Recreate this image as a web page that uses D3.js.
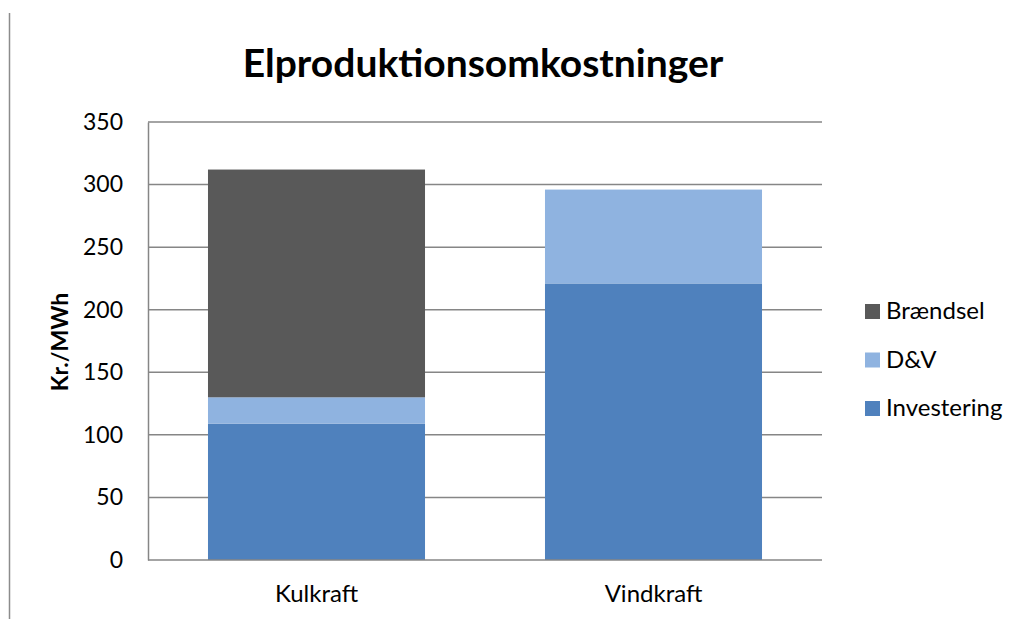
<!DOCTYPE html>
<html>
<head>
    <meta charset="utf-8">
    <script src="https://d3js.org/d3.v7.min.js"></script>
    <style>
        body { margin: 0; background: white; font-family: Lato, "Open Sans", sans-serif; }
        svg { display: block; }
        .grid line { stroke: #868686; stroke-width: 1.5px; }
        .tick text { fill: #000; font-size: 23px; font-family: Lato, "Open Sans", sans-serif; }
        .xaxis .tick text { font-size: 24px; }
    </style>
</head>
<body>
    <svg width="1023" height="619"></svg>
    <script>
        // Data (Kr./MWh)
        const categories = ["Kulkraft", "Vindkraft"];
        const seriesNames = ["Investering", "D&V", "Brændsel"];
        const investering = [109, 221];
        const dv = [21, 75];
        const braendsel = [182, 0];
        const yTicks = [0, 50, 100, 150, 200, 250, 300, 350];
        const colors = ["#4f81bd", "#8fb3e0", "#595959"];

        let rows = categories.map((c, i) => ({
            cat: c,
            "Investering": investering[i],
            "D&V": dv[i],
            "Brændsel": braendsel[i]
        }));
        let stacked = d3.stack().keys(seriesNames)(rows);

        let svg = d3.select("svg");
        let plotLeft = 148, plotRight = 822, plotTop = 122, plotBottom = 560;

        let x = d3.scaleBand().domain(categories).range([plotLeft, plotRight]).paddingInner(0.356).paddingOuter(0.178);
        let y = d3.scaleLinear().domain([0, 350]).range([plotBottom, plotTop]);

        // outer border edge on the left
        svg.append("line").attr("x1", 9.5).attr("x2", 9.5).attr("y1", 13).attr("y2", 619)
            .attr("stroke", "#8c8c8c").attr("stroke-width", 1.5);

        // gridlines
        svg.append("g").attr("class", "grid")
            .selectAll("line").data(yTicks.filter(d => d > 0)).enter().append("line")
            .attr("x1", plotLeft).attr("x2", plotRight)
            .attr("y1", d => y(d)).attr("y2", d => y(d));

        // bars
        svg.append("g").selectAll("g").data(stacked).enter().append("g")
            .attr("fill", (d, i) => colors[i])
            .selectAll("rect").data(d => d).enter().append("rect")
            .attr("x", d => x(d.data.cat))
            .attr("width", x.bandwidth())
            .attr("y", d => y(d[1]))
            .attr("height", d => y(d[0]) - y(d[1]));

        // axes
        let yAxis = svg.append("g").attr("transform", "translate(" + plotLeft + ",0)")
            .call(d3.axisLeft(y).tickValues(yTicks).tickSize(0).tickPadding(25));
        yAxis.select(".domain").attr("stroke", "#868686").attr("stroke-width", 1.5);

        let xAxis = svg.append("g").attr("class", "xaxis").attr("transform", "translate(0," + plotBottom + ")")
            .call(d3.axisBottom(x).tickSize(0).tickPadding(25));
        xAxis.select(".domain").attr("stroke", "#868686").attr("stroke-width", 1.5)
            .attr("d", "M" + plotLeft + ",0H" + plotRight);

        // title
        svg.append("text").attr("x", 483).attr("y", 77).attr("text-anchor", "middle")
            .style("font-size", "39px").style("font-weight", "bold").text("Elproduktionsomkostninger");

        // y label
        svg.append("text").attr("transform", "translate(68,342) rotate(-90)")
            .attr("text-anchor", "middle").style("font-size", "23px").style("font-weight", "bold")
            .text("Kr./MWh");

        // legend (top to bottom: Brændsel, D&V, Investering)
        let legendItems = seriesNames.slice().reverse();
        let lg = svg.append("g").selectAll("g").data(legendItems).enter().append("g")
            .attr("transform", (d, i) => "translate(865," + (304 + i * 48.5) + ")");
        lg.append("rect").attr("width", 15).attr("height", 15)
            .attr("fill", d => colors[seriesNames.indexOf(d)]);
        lg.append("text").attr("x", 21).attr("y", 15).style("font-size", "24px").text(d => d);
    </script>
</body>
</html>
